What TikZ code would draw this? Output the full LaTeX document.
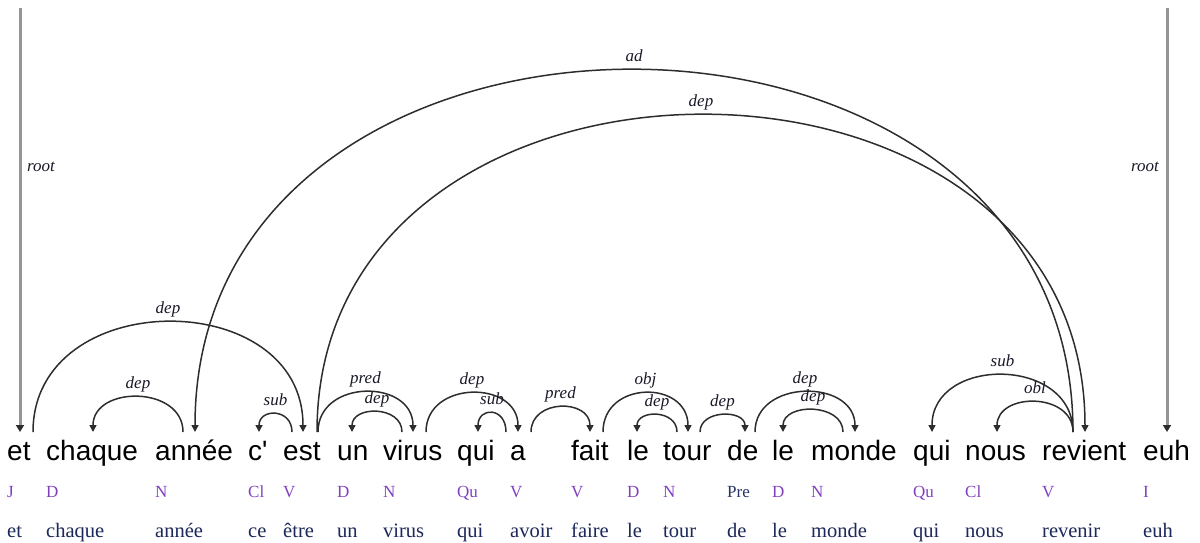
\documentclass[tikz,border=0pt]{standalone}
\usepackage{fontspec}
\setmainfont{Liberation Serif}
\newfontfamily\wordfont{Liberation Sans}
\usetikzlibrary{arrows.meta}
\definecolor{poscol}{RGB}{128,64,190}
\definecolor{precol}{RGB}{40,50,100}
\definecolor{lemcol}{RGB}{28,40,90}
\definecolor{lblcol}{RGB}{25,25,40}
\definecolor{arccol}{RGB}{45,45,45}
\definecolor{rootcol}{RGB}{150,150,150}
\tikzset{
  word/.style={font=\wordfont\fontsize{28}{30}\selectfont, anchor=base west, inner sep=0pt},
  postag/.style={font=\fontsize{17}{19}\selectfont, text=poscol, anchor=base west, inner sep=0pt},
  lemma/.style={font=\fontsize{20.5}{22}\selectfont, text=lemcol, anchor=base west, inner sep=0pt},
  lbl/.style={font=\itshape\fontsize{17}{19}\selectfont, text=lblcol, inner sep=0pt, anchor=base},
  deparc/.style={draw=arccol, line width=1.5pt, -{Triangle[length=7pt,width=7pt]}},
  rootarc/.style={draw=rootcol, line width=3pt, -{Triangle[length=7pt,width=8pt,color=arccol]}},
}
% name, start x, end x, top y, label
\newcommand\mkarc[5]{%
  \coordinate (#1s) at (#2,432);
  \coordinate (#1e) at (#3,432);
  \pgfmathsetmacro\arck{4/3*(432-#4)}
  \draw[deparc] (#1s) .. controls +(0,-\arck) and +(0,-\arck) .. (#1e);
  \pgfmathsetmacro\arcmx{(#2+#3)/2}
  \node[lbl] (#1l) at (\arcmx,#4-9) {#5};
}
\begin{document}
\begin{tikzpicture}[x=1pt,y=-1pt]
\useasboundingbox (0,0) rectangle (1200,542);
% words
\foreach \n/\x/\w/\p/\l in {
  1/7/et/J/et, 2/46/chaque/D/chaque, 3/155/année/N/année, 4/248/c'/Cl/ce,
  5/283/est/V/être, 6/337/un/D/un, 7/383/virus/N/virus, 8/457/qui/Qu/qui,
  9/510/a/V/avoir, 10/571/fait/V/faire, 11/627/le/D/le, 12/663/tour/N/tour,
  14/772/le/D/le, 15/811/monde/N/monde, 16/913/qui/Qu/qui,
  17/965/nous/Cl/nous, 18/1042/revient/V/revenir, 19/1143/euh/I/euh}{
  \node[word] (w\n) at (\x,460) {\w};
  \node[postag] (p\n) at (\x,497) {\p};
  \node[lemma] (l\n) at (\x,537) {\l};
}
\node[word] (w13) at (727,460) {de};
\node[postag, text=precol] (p13) at (727,497) {Pre};
\node[lemma] (l13) at (727,537) {de};
% roots
\coordinate (r1s) at (20,8);
\coordinate (r1e) at (20,432);
\draw[rootarc] (r1s) -- (r1e);
\node[lbl, anchor=base west] (r1l) at (27,171) {root};
\coordinate (r2s) at (1167,8);
\coordinate (r2e) at (1167,432);
\draw[rootarc] (r2s) -- (r2e);
\node[lbl, anchor=base east] (r2l) at (1159,171) {root};
% arcs
\mkarc{a1}{183}{93}{397}{dep}
\mkarc{a2}{33}{303}{322}{dep}
\mkarc{a3}{1073}{195}{70}{ad}
\mkarc{a4}{317}{1085}{115}{dep}
\mkarc{a5}{292}{259}{414}{sub}
\mkarc{a6}{318}{413}{392}{pred}
\mkarc{a7}{402}{352}{412}{dep}
\mkarc{a8}{426}{518}{393}{dep}
\mkarc{a9}{506}{478}{413}{sub}
\mkarc{a10}{531}{590}{407}{pred}
\mkarc{a11}{603}{688}{393}{obj}
\mkarc{a12}{677}{637}{415}{dep}
\mkarc{a13}{700}{745}{415}{dep}
\mkarc{a14}{755}{855}{392}{dep}
\mkarc{a15}{843}{783}{410}{dep}
\mkarc{a16}{1073}{932}{375}{sub}
\mkarc{a17}{1073}{997}{402}{obl}
\end{tikzpicture}
\end{document}
